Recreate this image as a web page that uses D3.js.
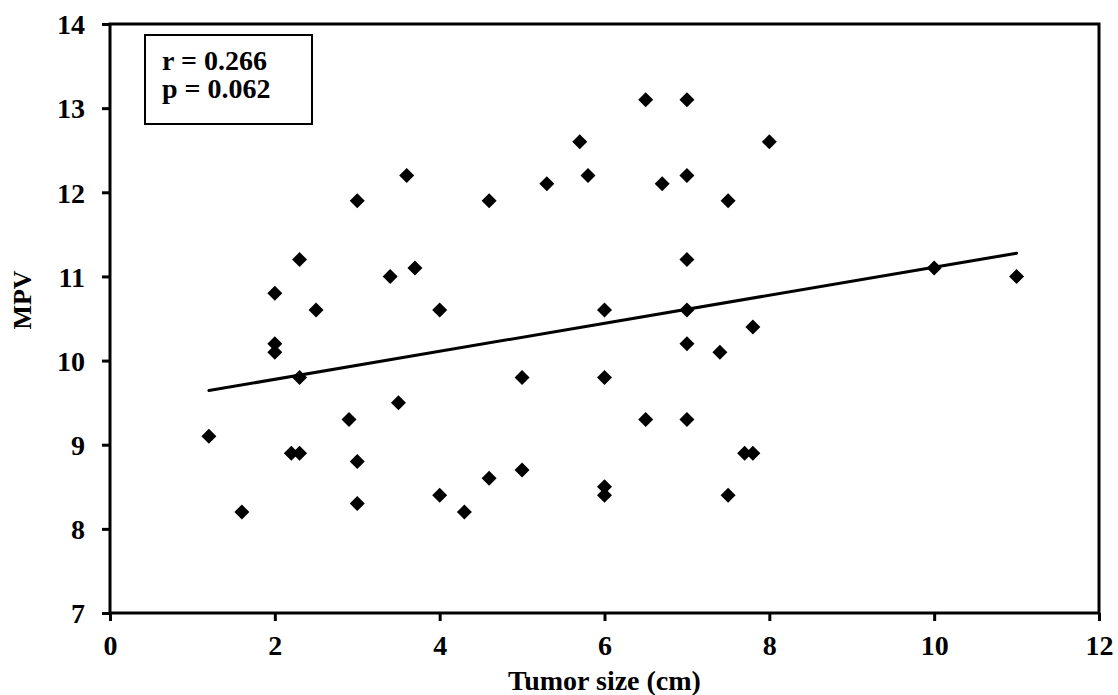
<!DOCTYPE html>
<html>
<head>
<meta charset="utf-8">
<script src="https://cdn.jsdelivr.net/npm/d3@7"></script>
<style>
  body { margin: 0; background: #fff; }
  text { font-family: "Liberation Serif", "Times New Roman", serif; font-weight: bold; }
</style>
</head>
<body>
<svg id="chart"></svg>
<script>
// tumor size (cm) and MPV
var sizes = [1.2, 1.6, 2, 2, 2, 2.2, 2.3, 2.3, 2.3, 2.5,
             2.9, 3, 3, 3, 3.4, 3.5, 3.6, 3.7, 4, 4,
             4.3, 4.6, 4.6, 5, 5, 5.3, 5.7, 5.8, 6, 6,
             6, 6, 6.5, 6.5, 6.7, 7, 7, 7, 7, 7,
             7, 7.4, 7.5, 7.5, 7.7, 7.8, 7.8, 8, 10, 11];
var mpv   = [9.1, 8.2, 10.8, 10.2, 10.1, 8.9, 8.9, 11.2, 9.8, 10.6,
             9.3, 11.9, 8.8, 8.3, 11.0, 9.5, 12.2, 11.1, 10.6, 8.4,
             8.2, 11.9, 8.6, 9.8, 8.7, 12.1, 12.6, 12.2, 10.6, 9.8,
             8.5, 8.4, 13.1, 9.3, 12.1, 13.1, 12.2, 11.2, 10.6, 10.2,
             9.3, 10.1, 11.9, 8.4, 8.9, 8.9, 10.4, 12.6, 11.1, 11.0];
var xTicks = [0, 2, 4, 6, 8, 10, 12];
var yTicks = [7, 8, 9, 10, 11, 12, 13, 14];
var statLines = ["r = 0.266", "p = 0.062"];

var width = 1118, height = 695;
var mLeft = 110, mRight = 1099, mTop = 24, mBottom = 613;

var svg = d3.select("#chart").attr("width", width).attr("height", height);

var x = d3.scaleLinear().domain([0, 12]).range([mLeft, mRight]);
var y = d3.scaleLinear().domain([7, 14]).range([mBottom, mTop]);

var points = sizes.map(function(s, i) { return {x: s, y: mpv[i]}; });

// frame
svg.append("rect")
   .attr("x", mLeft).attr("y", mTop)
   .attr("width", mRight - mLeft).attr("height", mBottom - mTop)
   .attr("fill", "none").attr("stroke", "#000").attr("stroke-width", 3);

var xAxis = svg.append("g")
   .attr("transform", "translate(0," + mBottom + ")")
   .call(d3.axisBottom(x).tickValues(xTicks).tickFormat(d3.format("d"))
           .tickSize(8).tickPadding(14));
var yAxis = svg.append("g")
   .attr("transform", "translate(" + mLeft + ",0)")
   .call(d3.axisLeft(y).tickValues(yTicks).tickFormat(d3.format("d"))
           .tickSize(8).tickPadding(17));

[xAxis, yAxis].forEach(function(g)
{
  g.select(".domain").remove();
  g.selectAll("line").attr("stroke", "#000").attr("stroke-width", 3);
  g.selectAll("text")
   .attr("fill", "#000")
   .style("font-size", "28px")
   .style("font-family", "'Liberation Serif', serif")
   .style("font-weight", "bold");
});
yAxis.selectAll("text").attr("dy", "0.35em");

// regression line
var mx = d3.mean(sizes), my = d3.mean(mpv);
var sxy = d3.sum(points, function(d) { return (d.x - mx) * (d.y - my); });
var sxx = d3.sum(points, function(d) { return (d.x - mx) * (d.x - mx); });
var slope = sxy / sxx, icpt = my - slope * mx;
var ext = d3.extent(sizes);

svg.append("line")
   .attr("x1", x(ext[0])).attr("y1", y(icpt + slope * ext[0]))
   .attr("x2", x(ext[1])).attr("y2", y(icpt + slope * ext[1]))
   .attr("stroke", "#000").attr("stroke-width", 3).attr("stroke-linecap", "round");

// diamonds
var r = 7.5;
svg.append("g").selectAll("path")
   .data(points)
   .enter()
   .append("path")
   .attr("d", function(d)
   {
     var cx = x(d.x), cy = y(d.y);
     return "M" + cx + "," + (cy - r) + "L" + (cx + r) + "," + cy +
            "L" + cx + "," + (cy + r) + "L" + (cx - r) + "," + cy + "Z";
   })
   .attr("fill", "#000");

/*stats box*/
svg.append("rect")
   .attr("x", 145).attr("y", 35).attr("width", 167).attr("height", 89)
   .attr("fill", "#fff").attr("stroke", "#000").attr("stroke-width", 2);

svg.selectAll(".stat")
   .data(statLines)
   .enter()
   .append("text")
   .attr("class", "stat")
   .attr("x", 162)
   .attr("y", function(d, i) { return 70 + i * 28; })
   .style("font-size", "28px")
   .text(function(d) { return d; });

// axis titles
svg.append("text")
   .attr("x", (mLeft + mRight) / 2).attr("y", 690)
   .attr("text-anchor", "middle")
   .style("font-size", "28px")
   .text("Tumor size (cm)");

svg.append("text")
   .attr("transform", "translate(31,300) rotate(-90)")
   .attr("text-anchor", "middle")
   .style("font-size", "26px")
   .text("MPV");
</script>
</body>
</html>
